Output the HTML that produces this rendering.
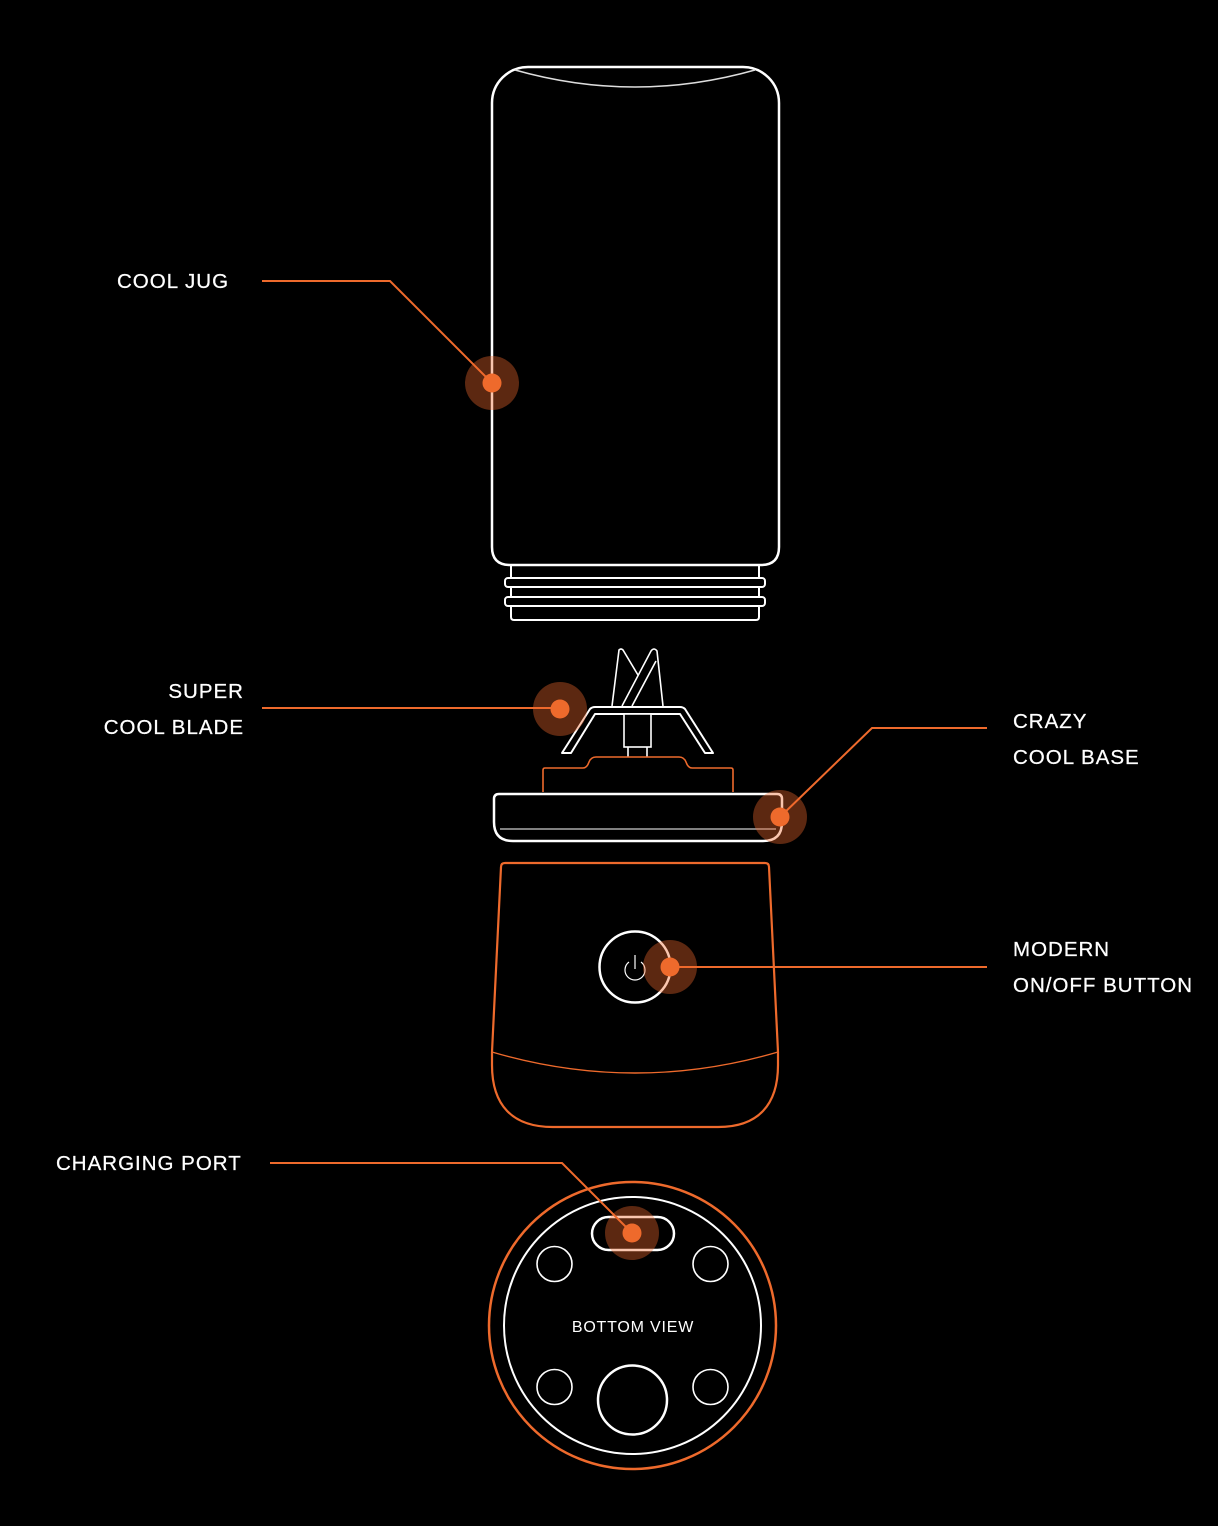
<!DOCTYPE html>
<html>
<head>
<meta charset="utf-8">
<style>
  html,body{margin:0;padding:0;background:#000;}
  body{width:1218px;height:1526px;overflow:hidden;}
  svg{display:block;}
  .lbl{font-family:"Liberation Sans",Arial,sans-serif;font-size:20.5px;fill:#fff;letter-spacing:1.0px;stroke:#fff;stroke-width:0.25px;}
</style>
</head>
<body>
<svg width="1218" height="1526" viewBox="0 0 1218 1526" xmlns="http://www.w3.org/2000/svg">
  <rect width="1218" height="1526" fill="#000"/>

  <!-- JUG -->
  <path d="M528,67 H743 A36,36 0 0 1 779,103 V547 Q779,565 761,565 H510 Q492,565 492,547 V103 A36,36 0 0 1 528,67 Z" fill="none" stroke="#fff" stroke-width="2.5"/>
  <path d="M515,70 Q635,104 755,70" fill="none" stroke="#ddd" stroke-width="1.5"/>
  <!-- neck -->
  <path d="M511,565 V617 Q511,620 514,620 H756 Q759,620 759,617 V565" fill="none" stroke="#fff" stroke-width="2"/>
  <rect x="505" y="578" width="260" height="9" rx="3" fill="#000" stroke="#fff" stroke-width="2"/>
  <rect x="505" y="597" width="260" height="9" rx="3" fill="#000" stroke="#fff" stroke-width="2"/>

  <!-- BLADE -->
  <path d="M612,706 L619,650 Q621,648 623,650 L638,675" fill="none" stroke="#fff" stroke-width="1.6"/>
  <path d="M622,706 L651,651 Q654,647 657,651 L663,706" fill="none" stroke="#fff" stroke-width="1.6"/>
  <path d="M632,706 L656,661" fill="none" stroke="#fff" stroke-width="1.6"/>
  <path d="M562,753 L590,709 Q592,707 595,707 H680 Q683,707 685,709 L713,753 L705,753 L680,714 H595 L571,753 Z" fill="#000" stroke="#fff" stroke-width="2" stroke-linejoin="round"/>
  <rect x="624" y="714" width="27" height="33" fill="#000" stroke="#fff" stroke-width="1.6"/>
  <path d="M628,747 V757 M647,747 V757" stroke="#fff" stroke-width="1.6"/>

  <!-- orange hub -->
  <path d="M543,792 V770 Q543,768 545,768 H583 Q587,768 589,762 Q591,757 596,757 H679 Q684,757 686,762 Q688,768 692,768 H731 Q733,768 733,770 V792" fill="none" stroke="#ee6a2c" stroke-width="1.6"/>

  <!-- base disc -->
  <path d="M499,794 H777 Q782,794 782,799 V822 Q782,841 763,841 H513 Q494,841 494,822 V799 Q494,794 499,794 Z" fill="#000" stroke="#fff" stroke-width="2.5"/>
  <path d="M500,829 H776" stroke="#aaa" stroke-width="1.5"/>

  <!-- base body -->
  <path d="M505,863 H765 Q769,863 769,867 L778,1052 V1065 C778,1105 758,1127 718,1127 H553 C512,1127 492,1105 492,1065 V1052 L501,867 Q501,863 505,863 Z" fill="none" stroke="#ee6a2c" stroke-width="2.2"/>
  <path d="M492,1052 Q635,1094 778,1052" fill="none" stroke="#ee6a2c" stroke-width="1.4"/>
  <!-- power button -->
  <circle cx="635" cy="967" r="35.5" fill="none" stroke="#fff" stroke-width="2.5"/>
  <path d="M629,962 A10,10 0 1 0 641,962" fill="none" stroke="#fff" stroke-width="1.2"/>
  <path d="M635,955 V969" stroke="#fff" stroke-width="1.2"/>

  <!-- BOTTOM VIEW -->
  <circle cx="632.5" cy="1325.5" r="143.5" fill="none" stroke="#ee6a2c" stroke-width="2.5"/>
  <circle cx="632.5" cy="1325.5" r="128.5" fill="none" stroke="#fff" stroke-width="2"/>
  <rect x="592" y="1217" width="82" height="33" rx="16.5" fill="none" stroke="#fff" stroke-width="2.5"/>
  <circle cx="554.5" cy="1264" r="17.5" fill="none" stroke="#fff" stroke-width="1.6"/>
  <circle cx="710.5" cy="1264" r="17.5" fill="none" stroke="#fff" stroke-width="1.6"/>
  <circle cx="554.5" cy="1387" r="17.5" fill="none" stroke="#fff" stroke-width="1.6"/>
  <circle cx="710.5" cy="1387" r="17.5" fill="none" stroke="#fff" stroke-width="1.6"/>
  <circle cx="632.5" cy="1400" r="34.5" fill="none" stroke="#fff" stroke-width="2.5"/>
  <text x="633" y="1332" text-anchor="middle" font-family="Liberation Sans, Arial, sans-serif" font-size="16" fill="#fff" letter-spacing="0.8">BOTTOM VIEW</text>

  <!-- CALLOUT LINES -->
  <g fill="none" stroke="#ee6a2c" stroke-width="2">
    <path d="M262,281 H390 L492,383"/>
    <path d="M262,708 H560"/>
    <path d="M987,728 H872 L780,817"/>
    <path d="M987,967 H670"/>
    <path d="M270,1163 H562 L632,1233"/>
  </g>

  <!-- HALOS + DOTS -->
  <g fill="#f26a2e" fill-opacity="0.38">
    <circle cx="492" cy="383" r="27"/>
    <circle cx="560" cy="709" r="27"/>
    <circle cx="780" cy="817" r="27"/>
    <circle cx="670" cy="967" r="27"/>
    <circle cx="632" cy="1233" r="27"/>
  </g>
  <g fill="#ee6a2c">
    <circle cx="492" cy="383" r="9.5"/>
    <circle cx="560" cy="709" r="9.5"/>
    <circle cx="780" cy="817" r="9.5"/>
    <circle cx="670" cy="967" r="9.5"/>
    <circle cx="632" cy="1233" r="9.5"/>
  </g>

  <!-- LABELS -->
  <text class="lbl" x="117" y="288">COOL JUG</text>
  <text class="lbl" x="244" y="698" text-anchor="end">SUPER</text>
  <text class="lbl" x="244" y="734" text-anchor="end">COOL BLADE</text>
  <text class="lbl" x="1013" y="728">CRAZY</text>
  <text class="lbl" x="1013" y="764">COOL BASE</text>
  <text class="lbl" x="1013" y="956">MODERN</text>
  <text class="lbl" x="1013" y="992">ON/OFF BUTTON</text>
  <text class="lbl" x="56" y="1170">CHARGING PORT</text>
</svg>
</body>
</html>
